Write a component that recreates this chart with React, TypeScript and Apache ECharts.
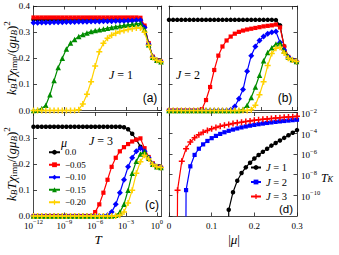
import React, { useEffect, useRef } from 'react';
import * as echarts from 'echarts';

// log10(T) grid of the NRG points
const LOG_T = [-12.0, -11.6, -11.2, -10.8, -10.4, -10.0, -9.6, -9.2, -8.8, -8.4, -8.0, -7.6, -7.2, -6.8, -6.4, -6.0,
  -5.6, -5.2, -4.8, -4.4, -4.0, -3.6, -3.2, -2.8, -2.4, -2.0, -1.6, -1.2, -0.8, -0.4, 0.0, 0.4];

// panel (a): J = 1
const A_MU000 = [0.348, 0.348, 0.348, 0.348, 0.348, 0.348, 0.348, 0.348, 0.348, 0.348, 0.348, 0.348, 0.348, 0.348, 0.348, 0.348,
  0.348, 0.348, 0.348, 0.348, 0.348, 0.348, 0.348, 0.348, 0.348, 0.348, 0.348, 0.32, 0.255, 0.205, 0.192, 0.187];
const A_MU005 = [0.356, 0.356, 0.356, 0.356, 0.356, 0.356, 0.356, 0.356, 0.356, 0.356, 0.356, 0.356, 0.356, 0.356, 0.356, 0.356,
  0.356, 0.356, 0.356, 0.356, 0.356, 0.356, 0.356, 0.356, 0.356, 0.356, 0.355, 0.325, 0.258, 0.206, 0.192, 0.187];
const A_MU010 = [0.336, 0.336, 0.337, 0.337, 0.337, 0.338, 0.338, 0.338, 0.339, 0.339, 0.339, 0.34, 0.34, 0.34, 0.341, 0.341,
  0.341, 0.342, 0.342, 0.342, 0.343, 0.343, 0.343, 0.344, 0.344, 0.345, 0.345, 0.318, 0.254, 0.205, 0.192, 0.187];
const A_MU015 = [0.0, 0.002, 0.008, 0.02, 0.06, 0.115, 0.165, 0.2, 0.235, 0.258, 0.272, 0.283, 0.291, 0.297, 0.302, 0.306,
  0.309, 0.312, 0.315, 0.318, 0.321, 0.323, 0.326, 0.328, 0.33, 0.332, 0.333, 0.31, 0.252, 0.204, 0.192, 0.187];
const A_MU020 = [0.0, 0.0, 0.0, 0.0, 0.0, 0.0, 0.0, 0.0, 0.0, 0.0, 0.0, 0.003, 0.025, 0.062, 0.11, 0.17,
  0.225, 0.257, 0.277, 0.288, 0.296, 0.302, 0.306, 0.31, 0.313, 0.316, 0.316, 0.3, 0.25, 0.203, 0.192, 0.187];

// panel (b): J = 2
const B_MU000 = [0.347, 0.347, 0.347, 0.347, 0.347, 0.347, 0.347, 0.347, 0.347, 0.347, 0.347, 0.347, 0.347, 0.347, 0.347, 0.347,
  0.347, 0.347, 0.347, 0.347, 0.347, 0.347, 0.347, 0.347, 0.347, 0.347, 0.346, 0.326, 0.245, 0.205, 0.193, 0.186];
const B_MU005 = [0.0, 0.0, 0.0, 0.0, 0.0, 0.0, 0.0, 0.0, 0.005, 0.04, 0.09, 0.155, 0.21, 0.245, 0.268, 0.283,
  0.294, 0.301, 0.306, 0.31, 0.313, 0.316, 0.319, 0.322, 0.324, 0.326, 0.329, 0.318, 0.245, 0.205, 0.193, 0.186];
const B_MU010 = [0.0, 0.0, 0.0, 0.0, 0.0, 0.0, 0.0, 0.0, 0.0, 0.0, 0.0, 0.0, 0.0, 0.0, 0.0, 0.003,
  0.015, 0.045, 0.08, 0.15, 0.21, 0.245, 0.268, 0.283, 0.294, 0.3, 0.302, 0.26, 0.232, 0.205, 0.194, 0.187];
const B_MU015 = [0.0, 0.0, 0.0, 0.0, 0.0, 0.0, 0.0, 0.0, 0.0, 0.0, 0.0, 0.0, 0.0, 0.0, 0.0, 0.0,
  0.0, 0.0, 0.005, 0.02, 0.05, 0.09, 0.135, 0.19, 0.222, 0.24, 0.255, 0.258, 0.228, 0.205, 0.195, 0.188];
const B_MU020 = [0.0, 0.0, 0.0, 0.0, 0.0, 0.0, 0.0, 0.0, 0.0, 0.0, 0.0, 0.0, 0.0, 0.0, 0.0, 0.0,
  0.0, 0.0, 0.0, 0.0, 0.003, 0.02, 0.06, 0.11, 0.172, 0.218, 0.238, 0.242, 0.22, 0.2, 0.193, 0.188];

// panel (c): J = 3
const C_MU000 = [0.345, 0.345, 0.345, 0.345, 0.345, 0.345, 0.345, 0.345, 0.345, 0.345, 0.345, 0.345, 0.345, 0.345, 0.345, 0.345,
  0.345, 0.345, 0.345, 0.345, 0.345, 0.345, 0.343, 0.335, 0.318, 0.295, 0.268, 0.245, 0.22, 0.2, 0.19, 0.187];
const C_MU005 = [0.0, 0.0, 0.0, 0.0, 0.0, 0.0, 0.0, 0.0, 0.0, 0.0, 0.0, 0.0, 0.0, 0.0, 0.0, 0.015,
  0.045, 0.09, 0.14, 0.19, 0.225, 0.25, 0.266, 0.278, 0.288, 0.295, 0.3, 0.262, 0.228, 0.204, 0.19, 0.187];
const C_MU010 = [0.0, 0.0, 0.0, 0.0, 0.0, 0.0, 0.0, 0.0, 0.0, 0.0, 0.0, 0.0, 0.0, 0.0, 0.0, 0.0,
  0.0, 0.0, 0.003, 0.015, 0.045, 0.09, 0.14, 0.19, 0.225, 0.25, 0.262, 0.25, 0.225, 0.202, 0.19, 0.187];
const C_MU015 = [0.0, 0.0, 0.0, 0.0, 0.0, 0.0, 0.0, 0.0, 0.0, 0.0, 0.0, 0.0, 0.0, 0.0, 0.0, 0.0,
  0.0, 0.0, 0.0, 0.0, 0.003, 0.015, 0.045, 0.1, 0.165, 0.212, 0.24, 0.248, 0.225, 0.2, 0.19, 0.187];
const C_MU020 = [0.0, 0.0, 0.0, 0.0, 0.0, 0.0, 0.0, 0.0, 0.0, 0.0, 0.0, 0.0, 0.0, 0.0, 0.0, 0.0,
  0.0, 0.0, 0.0, 0.0, 0.0, 0.003, 0.015, 0.05, 0.1, 0.165, 0.21, 0.235, 0.22, 0.2, 0.19, 0.187];

// panel (d): Kondo temperature vs |mu|
const MU_J1 = [0.138, 0.14, 0.15, 0.16, 0.17, 0.18, 0.19, 0.2, 0.21, 0.22, 0.23, 0.24, 0.25, 0.26, 0.27, 0.28, 0.29, 0.3];
const LOG_TK_J1 = [-30, -11.4, -9.7, -8.6, -7.85, -7.3, -6.85, -6.45, -6.1, -5.8, -5.5, -5.2, -4.95, -4.7, -4.45, -4.2, -3.95, -3.7];
const MU_J2 = [0.038, 0.04, 0.05, 0.06, 0.07, 0.08, 0.09, 0.1, 0.11, 0.12, 0.13, 0.14, 0.15, 0.16, 0.17, 0.18, 0.19, 0.2,
  0.21, 0.22, 0.23, 0.24, 0.25, 0.26, 0.27, 0.28, 0.29, 0.3];
const LOG_TK_J2 = [-30, -9.5, -7.2, -6.1, -5.5, -5.08, -4.75, -4.48, -4.26, -4.07, -3.91, -3.77, -3.65, -3.54, -3.44, -3.35,
  -3.27, -3.2, -3.13, -3.07, -3.01, -2.96, -2.91, -2.86, -2.82, -2.78, -2.74, -2.7];
const MU_J3 = [0.018, 0.02, 0.03, 0.04, 0.05, 0.06, 0.07, 0.08, 0.09, 0.1, 0.11, 0.12, 0.13, 0.14, 0.15, 0.16, 0.17, 0.18,
  0.19, 0.2, 0.21, 0.22, 0.23, 0.24, 0.25, 0.26, 0.27, 0.28, 0.29, 0.3];
const LOG_TK_J3 = [-30, -9.5, -6.7, -5.5, -4.85, -4.45, -4.15, -3.92, -3.74, -3.58, -3.45, -3.34, -3.24, -3.15, -3.07, -3.0,
  -2.93, -2.87, -2.81, -2.76, -2.71, -2.66, -2.62, -2.58, -2.54, -2.5, -2.46, -2.43, -2.4, -2.37];

const MU_NAMES = ['0.0', '\u22120.05', '\u22120.10', '\u22120.15', '\u22120.20'];
const J_NAMES = ['J = 1', 'J = 2', 'J = 3'];
const T_TICK_EXP = [-12, -9, -6, -3, 0];
const TK_TICK_EXP = [-2, -4, -6, -8, -10];
const CHI_TICKS = ['0.0', '0.1', '0.2', '0.3', '0.4'];
const MU_TICKS = ['0', '0.1', '0.2', '0.3'];

const COLORS = ['#000000', '#ff0000', '#0000ff', '#008c00', '#ffd200'];
const PLUS = 'path://M3,0H5V3H8V5H5V8H3V5H0V3H3Z';
const SYMBOLS = ['circle', 'rect', 'diamond', 'triangle', PLUS];
const SYMBOL_SIZES = [4.5, 4.2, 6, 5.5, 6];
const J_COLORS = ['#000000', '#0000ff', '#ff0000'];
const J_SYMBOLS = ['circle', 'rect', PLUS];
const J_SIZES = [4.5, 4.2, 6];

const SERIF = 'Liberation Serif';
const SANS = 'Liberation Sans';
const FRAME = '#1a1a1a';

const expText = (e: number) => `{b|10}{s|${e < 0 ? '\u2212' + -e : e}}`;
const expRich = {
  b: { fontFamily: SERIF, fontSize: 9, lineHeight: 12, verticalAlign: 'bottom', color: '#000' },
  s: { fontFamily: SERIF, fontSize: 6.5, lineHeight: 7, verticalAlign: 'top', color: '#000' },
};

const mathRich = (size: number) => ({
  i: { fontFamily: SERIF, fontStyle: 'italic', fontSize: size, lineHeight: size + 3, verticalAlign: 'bottom', color: '#000' },
  r: { fontFamily: SERIF, fontSize: size, lineHeight: size + 3, verticalAlign: 'bottom', color: '#000' },
  sb: { fontFamily: SERIF, fontStyle: 'italic', fontSize: size * 0.7, lineHeight: size * 0.7, verticalAlign: 'bottom', color: '#000' },
  sr: { fontFamily: SERIF, fontSize: size * 0.7, lineHeight: size * 0.7, verticalAlign: 'bottom', color: '#000' },
  sp: { fontFamily: SERIF, fontSize: size * 0.7, lineHeight: size * 0.7, verticalAlign: 'top', color: '#000' },
});

const GRIDS = [
  { left: 33.5, top: 6, width: 128, height: 104.5 },
  { left: 169, top: 6, width: 128, height: 104.5 },
  { left: 33.5, top: 112.5, width: 128, height: 103.5 },
  { left: 169, top: 112.5, width: 128, height: 103.5 },
];

const baseAxis = (gridIndex: number, position: string) => ({
  gridIndex,
  position,
  type: 'value',
  axisLine: { show: true, onZero: false, lineStyle: { color: FRAME, width: 0.8 } },
  axisTick: { show: true, inside: true, length: 3.5, lineStyle: { color: FRAME, width: 0.8 } },
  splitLine: { show: false },
  axisLabel: { show: false },
});

const tAxis = (gridIndex: number, position: string, labels: boolean) => ({
  ...baseAxis(gridIndex, position),
  min: -12,
  max: 0.45,
  interval: 3,
  axisLabel: labels
    ? {
        show: true,
        margin: 2,
        showMaxLabel: false,
        formatter: (v: number) => {
          const e = T_TICK_EXP.find((x) => Math.abs(x - v) < 1e-6);
          return e === undefined ? '' : expText(e);
        },
        rich: expRich,
      }
    : { show: false },
});

const chiAxis = (gridIndex: number, position: string, labels: boolean, showMax: boolean) => ({
  ...baseAxis(gridIndex, position),
  min: 0,
  max: 0.4,
  interval: 0.1,
  axisLabel: labels
    ? {
        show: true,
        margin: 3.5,
        showMaxLabel: showMax,
        fontFamily: SERIF,
        fontSize: 9,
        color: '#000',
        formatter: (v: number) => CHI_TICKS[Math.round(v * 10)] ?? '',
      }
    : { show: false },
});

const muAxis = (gridIndex: number, position: string, labels: boolean) => ({
  ...baseAxis(gridIndex, position),
  min: 0,
  max: 0.3,
  interval: 0.1,
  axisLabel: labels
    ? {
        show: true,
        margin: 5,
        fontFamily: SERIF,
        fontSize: 9,
        color: '#000',
        formatter: (v: number) => MU_TICKS[Math.round(v * 10)] ?? '',
      }
    : { show: false },
});

const tkAxis = (gridIndex: number, position: string, labels: boolean) => ({
  ...baseAxis(gridIndex, position),
  min: -12,
  max: -2,
  interval: 2,
  axisLabel: labels
    ? {
        show: true,
        margin: 4,
        showMinLabel: false,
        align: 'left',
        formatter: (v: number) => {
          const e = TK_TICK_EXP.find((x) => Math.abs(x - v) < 1e-6);
          return e === undefined ? '' : expText(e);
        },
        rich: expRich,
      }
    : { show: false },
});

const tSeries = (panel: number, arrays: number[][]) =>
  arrays.map((vals, k) => ({
    type: 'line',
    name: MU_NAMES[k],
    xAxisIndex: panel * 2,
    yAxisIndex: panel * 2,
    data: LOG_T.map((t, i) => [t, vals[i]]),
    symbol: SYMBOLS[k],
    symbolSize: SYMBOL_SIZES[k],
    showAllSymbol: true,
    lineStyle: { color: COLORS[k], width: 1.2 },
    itemStyle: { color: COLORS[k] },
    z: 2 + k,
    silent: true,
  }));

const dSeries = () =>
  [
    [MU_J1, LOG_TK_J1],
    [MU_J2, LOG_TK_J2],
    [MU_J3, LOG_TK_J3],
  ].map(([xs, ys], k) => ({
    type: 'line',
    name: J_NAMES[k],
    xAxisIndex: 6,
    yAxisIndex: 6,
    data: xs.map((x, i) => [x, ys[i]]),
    symbol: J_SYMBOLS[k],
    symbolSize: J_SIZES[k],
    showAllSymbol: true,
    lineStyle: { color: J_COLORS[k], width: 1.2 },
    itemStyle: { color: J_COLORS[k] },
    z: 2 + k,
    silent: true,
  }));

const txt = (x: number, y: number, text: string, extra: any = {}, rotation = 0) => ({
  type: 'text',
  x,
  y,
  rotation,
  silent: true,
  style: { text, align: 'center', verticalAlign: 'middle', fill: '#000', ...extra },
});

const Y_NAME = '{i|k}{sb|B}{i|T\u03c7}{sr|imp}{r|/(}{i|g\u03bc}{sb|B}{r|)}{sp|2}';
const PANEL_FONT = { fontFamily: SANS, fontSize: 12, lineHeight: 11 };

export default function App() {
  const ref = useRef<HTMLDivElement>(null);
  useEffect(() => {
    if (!ref.current) return;
    const chart = echarts.init(ref.current, undefined, { renderer: 'svg' });
    const r13 = mathRich(13);
    const r12 = mathRich(12);
    const option: any = {
      animation: false,
      backgroundColor: '#ffffff',
      grid: GRIDS,
      xAxis: [
        tAxis(0, 'bottom', false), tAxis(0, 'top', false),
        tAxis(1, 'bottom', false), tAxis(1, 'top', false),
        tAxis(2, 'bottom', true), tAxis(2, 'top', false),
        muAxis(3, 'bottom', true), muAxis(3, 'top', false),
      ],
      yAxis: [
        chiAxis(0, 'left', true, true), chiAxis(0, 'right', false, false),
        chiAxis(1, 'left', false, false), chiAxis(1, 'right', false, false),
        chiAxis(2, 'left', true, false), chiAxis(2, 'right', false, false),
        tkAxis(3, 'left', false), tkAxis(3, 'right', true),
      ],
      legend: [
        {
          data: MU_NAMES,
          orient: 'vertical',
          left: 48,
          top: 147.5,
          itemWidth: 11,
          itemHeight: 6,
          itemGap: 3,
          padding: 0,
          selectedMode: false,
          textStyle: { fontFamily: SERIF, fontSize: 9, lineHeight: 9.5, color: '#000' },
        },
        {
          data: J_NAMES,
          orient: 'vertical',
          left: 250,
          top: 162,
          itemWidth: 10,
          itemHeight: 6,
          itemGap: 3.5,
          padding: 0,
          selectedMode: false,
          formatter: (name: string) => `{i|J}{r| = ${name.slice(-1)}}`,
          textStyle: {
            fontFamily: SERIF,
            fontSize: 10.5,
            lineHeight: 9,
            color: '#000',
            rich: {
              i: { fontFamily: SERIF, fontStyle: 'italic', fontSize: 10.5, lineHeight: 9 },
              r: { fontFamily: SERIF, fontSize: 10.5, lineHeight: 9 },
            },
          },
        },
      ],
      graphic: [
        txt(10, 58, Y_NAME, { rich: r13 }, Math.PI / 2),
        txt(10, 164, Y_NAME, { rich: r13 }, Math.PI / 2),
        txt(98, 238, '{i|T}', { rich: r13 }),
        txt(234, 238, '{r||}{i|\u03bc}{r||}', { rich: r13 }),
        txt(327, 176, '{i|T}{sb|K}', { rich: r12 }),
        txt(150, 98, '(a)', PANEL_FONT),
        txt(285, 98, '(b)', PANEL_FONT),
        txt(152, 205, '(c)', PANEL_FONT),
        txt(286, 208.5, '(d)', { fontFamily: SANS, fontSize: 11.5, lineHeight: 10 }),
        txt(121, 73, '{i|J}{r| = 1}', { rich: r12 }),
        txt(188, 73, '{i|J}{r| = 2}', { rich: r12 }),
        txt(101, 139, '{i|J}{r| = 3}', { rich: r12 }),
        txt(64, 141, '{i|\u03bc}', { rich: r12 }),
      ],
      series: [
        ...tSeries(0, [A_MU000, A_MU005, A_MU010, A_MU015, A_MU020]),
        ...tSeries(1, [B_MU000, B_MU005, B_MU010, B_MU015, B_MU020]),
        ...tSeries(2, [C_MU000, C_MU005, C_MU010, C_MU015, C_MU020]),
        ...dSeries(),
      ],
    };
    chart.setOption(option);
    return () => chart.dispose();
  }, []);
  return <div ref={ref} style={{ position: 'fixed', left: 0, top: 0, width: 339, height: 255 }} />;
}
